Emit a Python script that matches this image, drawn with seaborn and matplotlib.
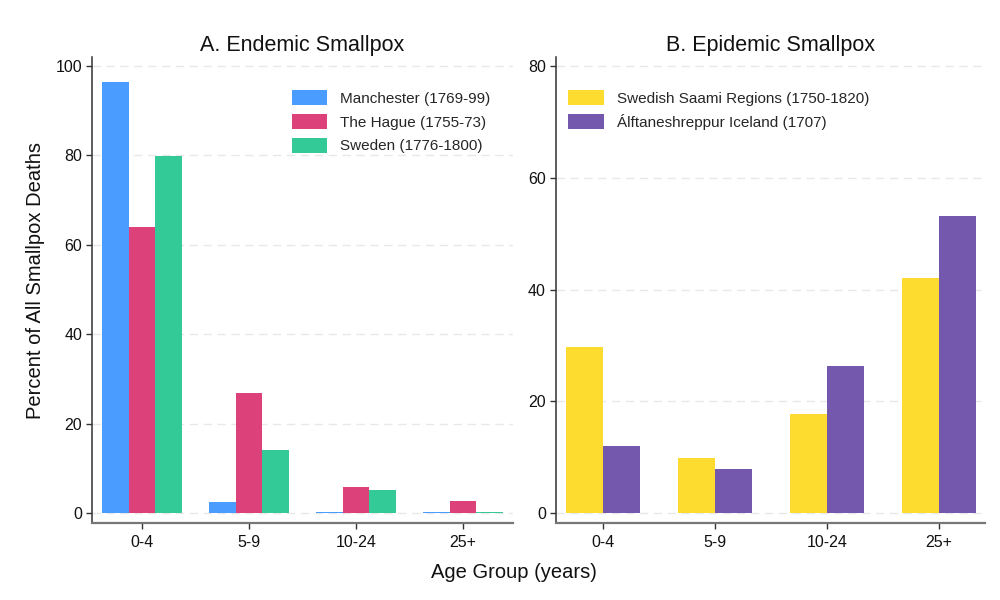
import numpy as np
import pandas as pd
import seaborn as sns
import matplotlib.pyplot as plt

# ---- data ----
age_groups = ["0-4", "5-9", "10-24", "25+"]

endemic_series = ["Manchester (1769-99)", "The Hague (1755-73)", "Sweden (1776-1800)"]
manchester = [96.4, 2.5, 0.4, 0.2]
the_hague = [63.9, 26.8, 5.9, 2.8]
sweden = [79.9, 14.2, 5.1, 0.2]

epidemic_series = ["Swedish Saami Regions (1750-1820)", "Álftaneshreppur Iceland (1707)"]
saami = [29.8, 9.8, 17.8, 42.1]
iceland = [12.0, 8.0, 26.4, 53.2]

endemic_colors = ["#4A9DFF", "#DC417A", "#33CA97"]
epidemic_colors = ["#FEDB2F", "#7358AD"]

# ---- tidy frames ----
df_end = pd.DataFrame({
    "age": age_groups * 3,
    "pct": manchester + the_hague + sweden,
    "series": [s for s in endemic_series for _ in age_groups],
})
df_epi = pd.DataFrame({
    "age": age_groups * 2,
    "pct": saami + iceland,
    "series": [s for s in epidemic_series for _ in age_groups],
})

sns.set_theme(style="white")
plt.rcParams["font.family"] = ["Liberation Sans", "DejaVu Sans"]

fig = plt.figure(figsize=(10, 6), dpi=100)
ax1 = fig.add_axes([0.092, 0.1283, 0.421, 0.7767])
ax2 = fig.add_axes([0.5557, 0.1283, 0.4293, 0.7767])

sns.barplot(data=df_end, x="age", y="pct", hue="series", order=age_groups,
            hue_order=endemic_series, palette=endemic_colors, width=0.75,
            gap=0, dodge=True, saturation=1, errorbar=None, ax=ax1, linewidth=0)
sns.barplot(data=df_epi, x="age", y="pct", hue="series", order=age_groups,
            hue_order=epidemic_series, palette=epidemic_colors, width=0.66,
            gap=0, dodge=True, saturation=1, errorbar=None, ax=ax2, linewidth=0)

ax1.set_xlim(-0.467, 3.467)
ax1.set_ylim(-2.17, 102.0)
ax1.set_yticks([0, 20, 40, 60, 80, 100])
ax2.set_xlim(-0.42, 3.41)
ax2.set_ylim(-1.74, 81.6)
ax2.set_yticks([0, 20, 40, 60, 80])

for ax, title in [(ax1, "A. Endemic Smallpox"), (ax2, "B. Epidemic Smallpox")]:
    ax.set_xlabel("")
    ax.set_ylabel("")
    ax.set_title(title, fontsize=15.5, pad=4, color="#111111")
    ax.yaxis.grid(True, linestyle=(0, (6, 4)), color="#E8E8E8", linewidth=1)
    ax.xaxis.grid(False)
    ax.set_axisbelow(True)
    for s in ["top", "right"]:
        ax.spines[s].set_visible(False)
    ax.spines["left"].set_color("#333333")
    ax.spines["left"].set_linewidth(1.1)
    ax.spines["bottom"].set_color("#777777")
    ax.spines["bottom"].set_linewidth(1.6)
    ax.tick_params(axis="both", which="major", bottom=True, left=True,
                   direction="out", width=1, color="#333333",
                   labelsize=11.5, labelcolor="#111111")
    ax.tick_params(axis="x", pad=4, length=4.3)
    ax.tick_params(axis="y", pad=2.5, length=4.5)

leg_kw = dict(frameon=False, fontsize=11, handlelength=2.35, handleheight=1.1,
              handletextpad=0.85, labelspacing=0.55, borderpad=0, borderaxespad=0)
h1, l1 = ax1.get_legend_handles_labels()
ax1.legend(h1, l1, loc="upper left", bbox_to_anchor=(0.474, 0.929), **leg_kw)
h2, l2 = ax2.get_legend_handles_labels()
ax2.legend(h2, l2, loc="upper left", bbox_to_anchor=(0.028, 0.929), **leg_kw)

fig.text(0.036, 1 - 281 / 600, "Percent of All Smallpox Deaths", rotation=90,
         ha="center", va="center", fontsize=14.5, color="#111111")
fig.text(0.514, 1 - 572 / 600, "Age Group (years)", ha="center", va="center",
         fontsize=14.5, color="#111111")

fig.savefig("out.png", dpi=100)
